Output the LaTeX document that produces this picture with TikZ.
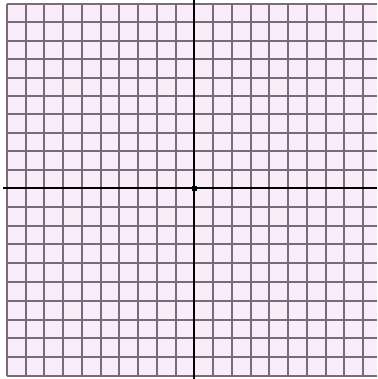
\documentclass[tikz,border=0pt]{standalone}
\begin{document}
\begin{tikzpicture}[x=1pt,y=-1pt,
  gridline/.style={draw=gridcol,line width=2pt},
  axisline/.style={draw=black,line width=1.6pt}]
\definecolor{bgpink}{RGB}{250,237,250}
\definecolor{gridcol}{RGB}{122,106,122}
\useasboundingbox (0,0) rectangle (377,379);
\fill[white] (0,0) rectangle (377,379);
\fill[bgpink] (7,4) rectangle (377,376);
% vertical grid lines
\foreach \x in {7,26,44,63,82,101,119,138,157,176,213,232,251,269,288,307,326,344,363} {
  \draw[gridline] (\x,4) -- (\x,376);
}
% horizontal grid lines
\foreach \y in {4,22,41,59,78,96,114,133,151,170,207,226,244,263,282,301,320,338,357,376} {
  \draw[gridline] (7,\y) -- (377,\y);
}
% axes
\draw[axisline] (194,0) -- (194,379);
\draw[axisline] (3,188) -- (377,188);
\fill[black] (191.5,185.5) rectangle (196.5,190.5);
\end{tikzpicture}
\end{document}
